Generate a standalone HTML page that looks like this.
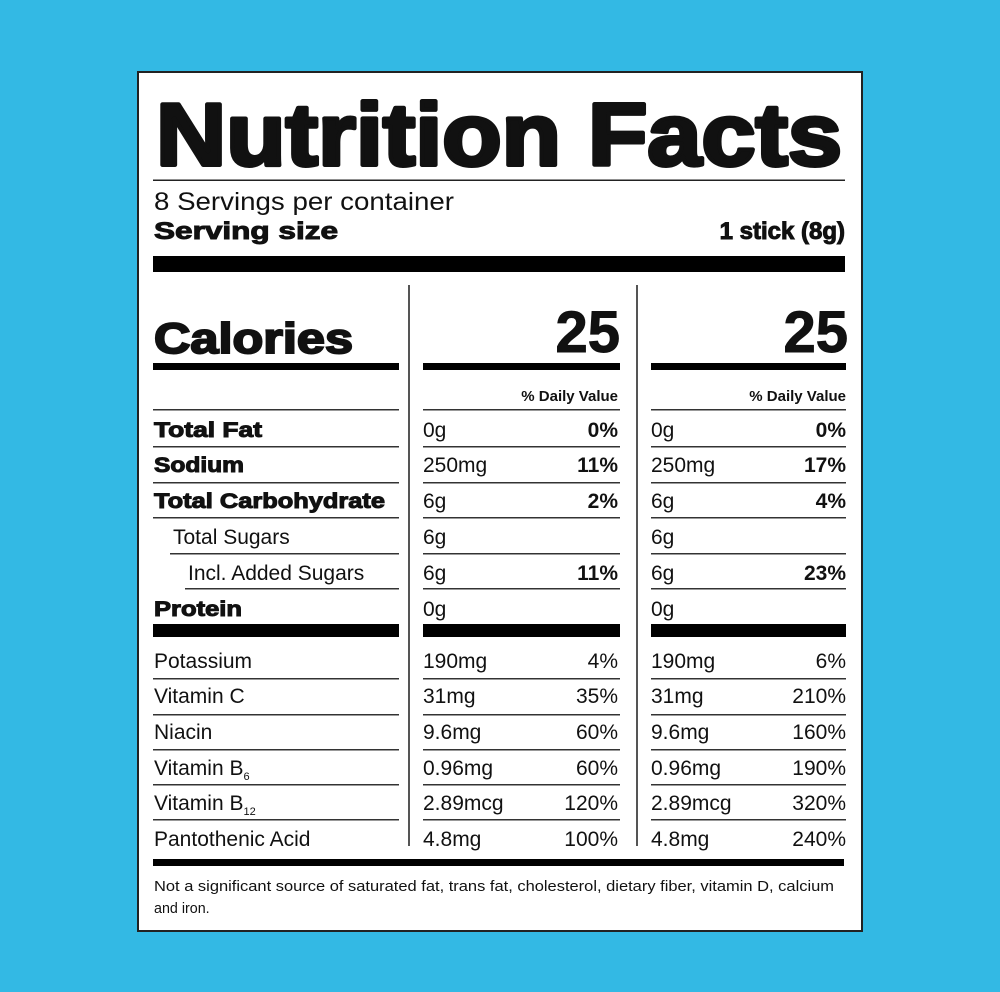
<!DOCTYPE html>
<html><head><meta charset="utf-8"><style>
html,body{margin:0;padding:0;background:#33b9e4;}
svg{display:block}
text{font-family:"Liberation Sans",Arial,sans-serif;fill:#111}
.b{font-weight:bold}
.r{text-anchor:end}
.h{stroke:#111;stroke-width:1}
</style></head><body>
<svg width="1000" height="992" viewBox="0 0 1000 992">
<rect width="1000" height="992" fill="#33b9e4"/>
<rect x="138" y="72" width="724" height="859" fill="#fff" stroke="#222" stroke-width="2"/>
<text x="156" y="165" class="b" font-size="88" stroke="#111" stroke-width="4" stroke-linejoin="round" textLength="686" lengthAdjust="spacingAndGlyphs">Nutrition Facts</text>
<rect x="153" y="179.5" width="692" height="1.5" fill="#222"/>
<text x="154" y="210" font-size="25" textLength="300" lengthAdjust="spacingAndGlyphs">8 Servings per container</text>
<text x="154" y="239" class="b h" font-size="24" textLength="184" lengthAdjust="spacingAndGlyphs">Serving size</text>
<text x="845" y="239" class="b r h" font-size="24">1 stick (8g)</text>
<rect x="153" y="256" width="692" height="16" fill="#000"/>
<rect x="408" y="285" width="2" height="561" fill="#555"/>
<rect x="636" y="285" width="2" height="561" fill="#555"/>
<text x="154" y="353" class="b" stroke="#111" stroke-width="2" font-size="43" textLength="199" lengthAdjust="spacingAndGlyphs">Calories</text>
<text x="620" y="352" class="b r h" font-size="58">25</text>
<text x="848" y="352" class="b r h" font-size="58">25</text>
<rect x="153" y="363" width="246" height="7" fill="#000"/>
<rect x="423" y="363" width="197" height="7" fill="#000"/>
<rect x="651" y="363" width="195" height="7" fill="#000"/>
<text x="618" y="401" class="b r" font-size="15">% Daily Value</text>
<text x="846" y="401" class="b r" font-size="15">% Daily Value</text>
<g fill="#333">
<rect x="153" y="409" width="246" height="1.5"/><rect x="423" y="409" width="197" height="1.5"/><rect x="651" y="409" width="195" height="1.5"/>
<rect x="153" y="446" width="246" height="1.5"/><rect x="423" y="446" width="197" height="1.5"/><rect x="651" y="446" width="195" height="1.5"/>
<rect x="153" y="482" width="246" height="1.5"/><rect x="423" y="482" width="197" height="1.5"/><rect x="651" y="482" width="195" height="1.5"/>
<rect x="153" y="517" width="246" height="1.5"/><rect x="423" y="517" width="197" height="1.5"/><rect x="651" y="517" width="195" height="1.5"/>
<rect x="170" y="553" width="229" height="1.5"/><rect x="423" y="553" width="197" height="1.5"/><rect x="651" y="553" width="195" height="1.5"/>
<rect x="185" y="588" width="214" height="1.5"/><rect x="423" y="588" width="197" height="1.5"/><rect x="651" y="588" width="195" height="1.5"/>
</g>
<g fill="#000">
<rect x="153" y="624" width="246" height="13"/><rect x="423" y="624" width="197" height="13"/><rect x="651" y="624" width="195" height="13"/>
</g>
<g fill="#333">
<rect x="153" y="678" width="246" height="1.5"/><rect x="423" y="678" width="197" height="1.5"/><rect x="651" y="678" width="195" height="1.5"/>
<rect x="153" y="714" width="246" height="1.5"/><rect x="423" y="714" width="197" height="1.5"/><rect x="651" y="714" width="195" height="1.5"/>
<rect x="153" y="749" width="246" height="1.5"/><rect x="423" y="749" width="197" height="1.5"/><rect x="651" y="749" width="195" height="1.5"/>
<rect x="153" y="784" width="246" height="1.5"/><rect x="423" y="784" width="197" height="1.5"/><rect x="651" y="784" width="195" height="1.5"/>
<rect x="153" y="819" width="246" height="1.5"/><rect x="423" y="819" width="197" height="1.5"/><rect x="651" y="819" width="195" height="1.5"/>
</g>
<g font-size="21">
<text x="154" y="437" class="b h" textLength="108" lengthAdjust="spacingAndGlyphs">Total Fat</text>
<text x="154" y="472" class="b h" textLength="90" lengthAdjust="spacingAndGlyphs">Sodium</text>
<text x="154" y="508" class="b h" textLength="231" lengthAdjust="spacingAndGlyphs">Total Carbohydrate</text>
<text x="173" y="544">Total Sugars</text>
<text x="188" y="580">Incl. Added Sugars</text>
<text x="154" y="616" class="b h" textLength="88" lengthAdjust="spacingAndGlyphs">Protein</text>
<text x="154" y="668">Potassium</text>
<text x="154" y="703">Vitamin C</text>
<text x="154" y="739">Niacin</text>
<text x="154" y="775">Vitamin B<tspan font-size="11" dy="5">6</tspan></text>
<text x="154" y="810">Vitamin B<tspan font-size="11" dy="5">12</tspan></text>
<text x="154" y="846">Pantothenic Acid</text>

<text x="423" y="437">0g</text><text x="618" y="437" class="b r">0%</text>
<text x="423" y="472">250mg</text><text x="618" y="472" class="b r">11%</text>
<text x="423" y="508">6g</text><text x="618" y="508" class="b r">2%</text>
<text x="423" y="544">6g</text>
<text x="423" y="580">6g</text><text x="618" y="580" class="b r">11%</text>
<text x="423" y="616">0g</text>
<text x="423" y="668">190mg</text><text x="618" y="668" class="r">4%</text>
<text x="423" y="703">31mg</text><text x="618" y="703" class="r">35%</text>
<text x="423" y="739">9.6mg</text><text x="618" y="739" class="r">60%</text>
<text x="423" y="775">0.96mg</text><text x="618" y="775" class="r">60%</text>
<text x="423" y="810">2.89mcg</text><text x="618" y="810" class="r">120%</text>
<text x="423" y="846">4.8mg</text><text x="618" y="846" class="r">100%</text>

<text x="651" y="437">0g</text><text x="846" y="437" class="b r">0%</text>
<text x="651" y="472">250mg</text><text x="846" y="472" class="b r">17%</text>
<text x="651" y="508">6g</text><text x="846" y="508" class="b r">4%</text>
<text x="651" y="544">6g</text>
<text x="651" y="580">6g</text><text x="846" y="580" class="b r">23%</text>
<text x="651" y="616">0g</text>
<text x="651" y="668">190mg</text><text x="846" y="668" class="r">6%</text>
<text x="651" y="703">31mg</text><text x="846" y="703" class="r">210%</text>
<text x="651" y="739">9.6mg</text><text x="846" y="739" class="r">160%</text>
<text x="651" y="775">0.96mg</text><text x="846" y="775" class="r">190%</text>
<text x="651" y="810">2.89mcg</text><text x="846" y="810" class="r">320%</text>
<text x="651" y="846">4.8mg</text><text x="846" y="846" class="r">240%</text>
</g>
<rect x="153" y="859" width="691" height="7" fill="#000"/>
<text x="154" y="891" font-size="14.3" textLength="680" lengthAdjust="spacingAndGlyphs">Not a significant source of saturated fat, trans fat, cholesterol, dietary fiber, vitamin D, calcium</text>
<text x="154" y="913" font-size="14.3">and iron.</text>
</svg>
</body></html>
